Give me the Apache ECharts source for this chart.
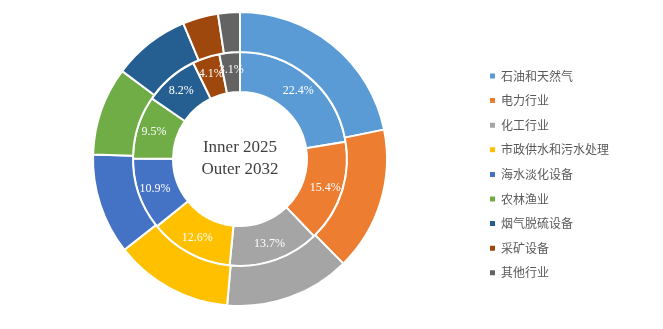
<!DOCTYPE html>
<html>
<head>
<meta charset="utf-8">
<script src="https://cdn.jsdelivr.net/npm/echarts@6/dist/echarts.min.js"></script>
<style>
  html, body { margin: 0; padding: 0; background: #ffffff; }
  #chart { width: 663px; height: 329px; }
</style>
</head>
<body>
<div id="chart"></div>
<script>
// Industry categories (legend order)
const categories = ['石油和天然气', '电力行业', '化工行业', '市政供水和污水处理', '海水淡化设备', '农林渔业', '烟气脱硫设备', '采矿设备', '其他行业'];
// Share (%) in 2025 — inner ring
const share2025 = [22.4, 15.4, 13.7, 12.6, 10.9, 9.5, 8.2, 4.1, 3.1];
// Share (%) in 2032 — outer ring
const share2032 = [21.8, 15.8, 13.8, 13.0, 11.1, 9.7, 8.5, 3.9, 2.4];
// Slice colours
const colors = ['#5B9BD5', '#ED7D31', '#A5A5A5', '#FFC000', '#4472C4', '#70AD47', '#255E91', '#9E480E', '#636363'];

const chart = echarts.init(document.getElementById('chart'));

const toData = vals => categories.map((name, i) => ({ name, value: vals[i] }));

chart.setOption({
  animation: false,
  color: colors,
  legend: {
    orient: 'vertical',
    left: 483,
    top: 64,
    itemWidth: 7,
    itemHeight: 7,
    itemGap: 10.6,
    icon: 'rect',
    textStyle: { fontSize: 12, color: '#595959', fontFamily: 'Noto Sans CJK SC', lineHeight: 14 },
    data: categories
  },
  graphic: [{
    type: 'text',
    style: {
      text: 'Inner 2025\nOuter 2032',
      x: 240, y: 159,
      align: 'center',
      verticalAlign: 'middle',
      fontFamily: 'Liberation Serif',
      fontSize: 17,
      lineHeight: 22,
      fill: '#404040'
    }
  }],
  series: [
    {
      name: '2025',
      type: 'pie',
      center: [240, 159],
      radius: [67, 107],
      startAngle: 90,
      clockwise: true,
      avoidLabelOverlap: false,
      itemStyle: { borderColor: '#ffffff', borderWidth: 2 },
      label: {
        show: true,
        position: 'inside',
        formatter: p => p.value.toFixed(1) + '%',
        color: '#ffffff',
        fontFamily: 'Liberation Serif',
        fontSize: 12
      },
      labelLayout: { hideOverlap: false },
      labelLine: { show: false },
      emphasis: { disabled: true },
      data: toData(share2025)
    },
    {
      name: '2032',
      type: 'pie',
      center: [240, 159],
      radius: [107, 147],
      startAngle: 90,
      clockwise: true,
      itemStyle: { borderColor: '#ffffff', borderWidth: 2 },
      label: { show: false },
      labelLine: { show: false },
      emphasis: { disabled: true },
      data: toData(share2032)
    }
  ]
});
</script>
</body>
</html>
